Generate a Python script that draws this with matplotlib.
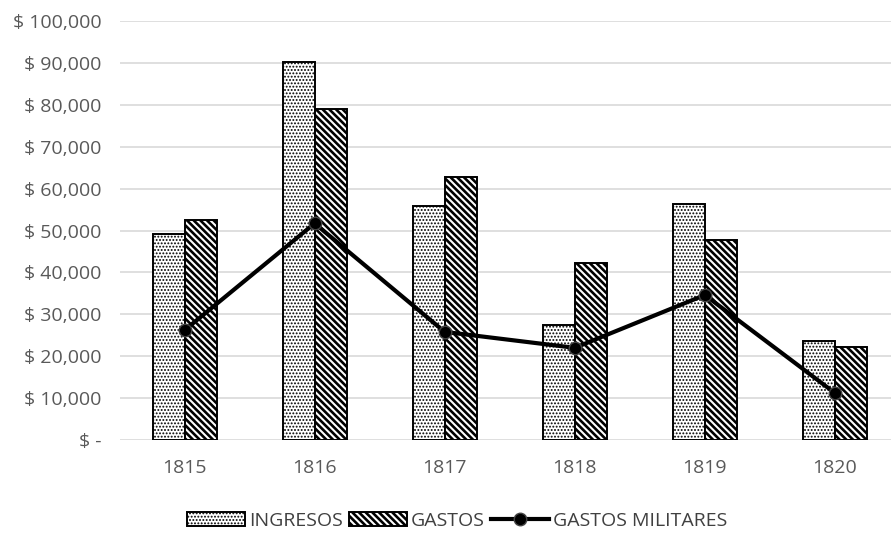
import numpy as np
import matplotlib.pyplot as plt

# datos
anios = ["1815", "1816", "1817", "1818", "1819", "1820"]
ingresos = [49200, 90100, 55900, 27500, 56400, 23700]
gastos = [52600, 79100, 62700, 42300, 47800, 22200]
gastos_militares = [26200, 51700, 25800, 22000, 34600, 11200]

plt.rcParams['font.family'] = ['Open Sans', 'DejaVu Sans']
plt.rcParams['hatch.linewidth'] = 1.9
gris = "#595959"

fig = plt.figure(figsize=(8.91, 5.33), dpi=100)
# el area de trazado sale del borde derecho, como en la imagen original
ax = fig.add_axes([119.5 / 891, 93 / 533, 780.5 / 891, 419 / 533])

x = np.arange(len(anios))
w = 0.246
b1 = ax.bar(x - w / 2, ingresos, w, color="white", edgecolor="black", hatch=".....",
            linewidth=1.4, label="INGRESOS", zorder=2)
b2 = ax.bar(x + w / 2, gastos, w, color="white", edgecolor="black",
            hatch="\\\\\\\\\\", linewidth=1.4, label="GASTOS", zorder=2)
# puntos mas finos para los ingresos
for p in b1:
    try:
        p.set_hatch_linewidth(0.9)
    except AttributeError:
        pass
l1, = ax.plot(x, gastos_militares, color="black", lw=3, marker="o", markersize=9,
              markerfacecolor="black", markeredgecolor="#444444", markeredgewidth=1,
              label="GASTOS MILITARES", zorder=3)

ax.set_xlim(-0.5, len(anios) - 0.5)
ax.set_ylim(0, 100000)
ax.set_yticks(np.arange(0, 100001, 10000))
ax.set_yticklabels(["$ -"] + [f"$ {v:,}" for v in range(10000, 100001, 10000)])
ax.set_xticks(x)
ax.set_xticklabels(anios)
ax.tick_params(axis="y", length=0, pad=13, labelsize=14, labelcolor=gris)
ax.tick_params(axis="x", length=0, pad=14, labelsize=14, labelcolor=gris)
ax.grid(axis="y", color="#d9d9d9", lw=1.2, zorder=0)
ax.set_axisbelow(True)
for s in ax.spines.values():
    s.set_visible(False)

leg = fig.legend([b1, b2, l1], ["INGRESOS", "GASTOS", "GASTOS MILITARES"],
                 loc="center", bbox_to_anchor=(457 / 891, 12 / 533), ncol=3,
                 frameon=False, fontsize=14, labelcolor="#404040", handlelength=3.0,
                 handleheight=0.7, handletextpad=0.2, columnspacing=0.3)
for h in leg.get_patches()[:1]:
    try:
        h.set_hatch_linewidth(0.9)
    except AttributeError:
        pass

fig.savefig("out.png", dpi=100)
